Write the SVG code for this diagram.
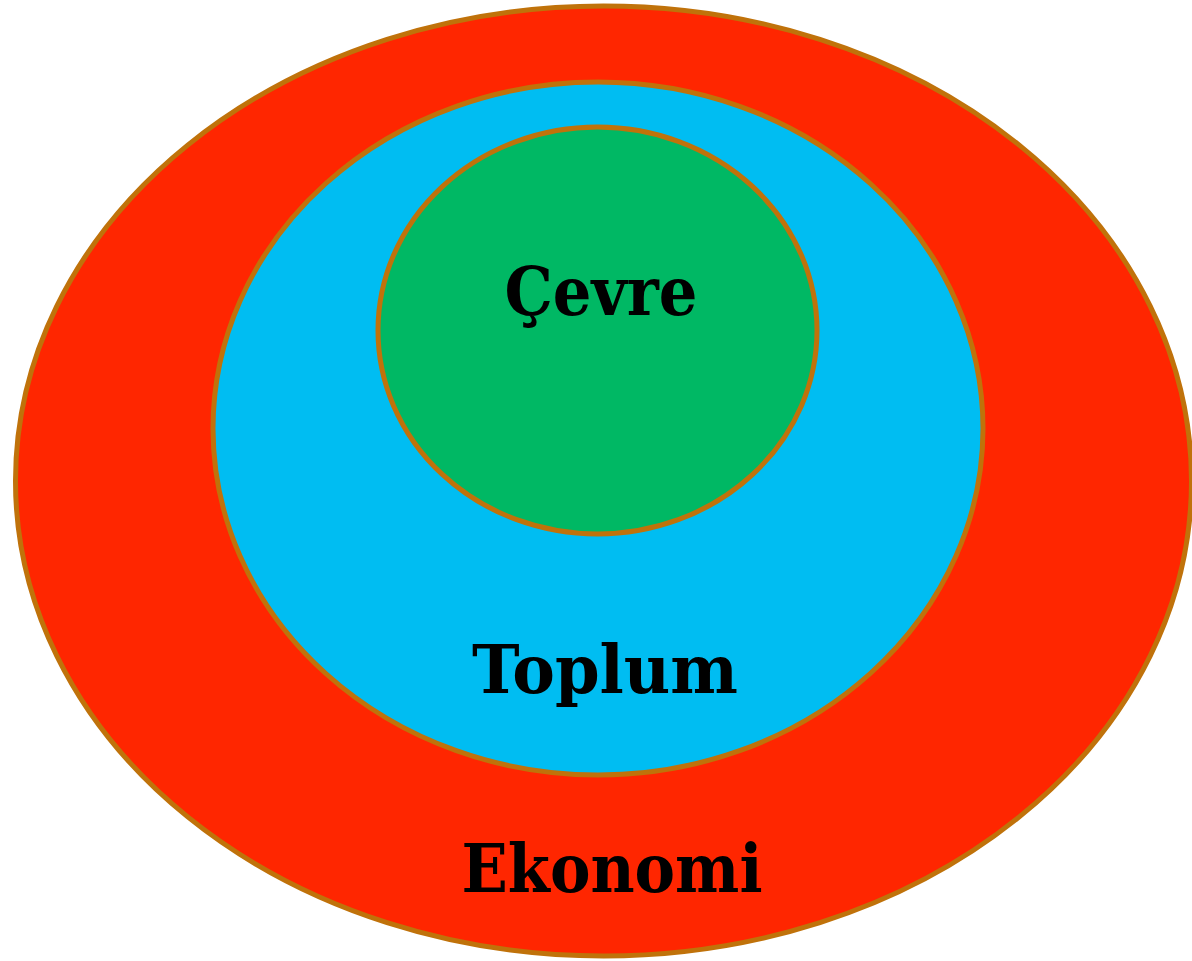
<svg xmlns="http://www.w3.org/2000/svg" width="1192" height="961" viewBox="0 0 1192 961">
<style>
.ring{stroke:#C0720A;stroke-width:5}
.lbl{font-family:"DejaVu Serif","Liberation Serif",serif;font-weight:bold;font-size:68px;fill:#000;text-anchor:middle}
</style>
<rect width="1192" height="961" fill="#fff"/>
<g id="ekonomi">
<ellipse class="ring" cx="603.5" cy="481" rx="588" ry="475" fill="#FF2600"/>
<text class="lbl" x="612" y="892" textLength="301" lengthAdjust="spacingAndGlyphs">Ekonomi</text>
</g>
<g id="toplum">
<ellipse class="ring" cx="598" cy="428.5" rx="385" ry="346.5" fill="#00BDF2"/>
<text class="lbl" x="605" y="693" textLength="266" lengthAdjust="spacingAndGlyphs">Toplum</text>
</g>
<g id="cevre">
<ellipse class="ring" cx="597.5" cy="330.5" rx="219.5" ry="203.5" fill="#00B864"/>
<text class="lbl" x="601" y="315" textLength="193" lengthAdjust="spacingAndGlyphs">Çevre</text>
</g>
<g id="connectors"/>
</svg>
